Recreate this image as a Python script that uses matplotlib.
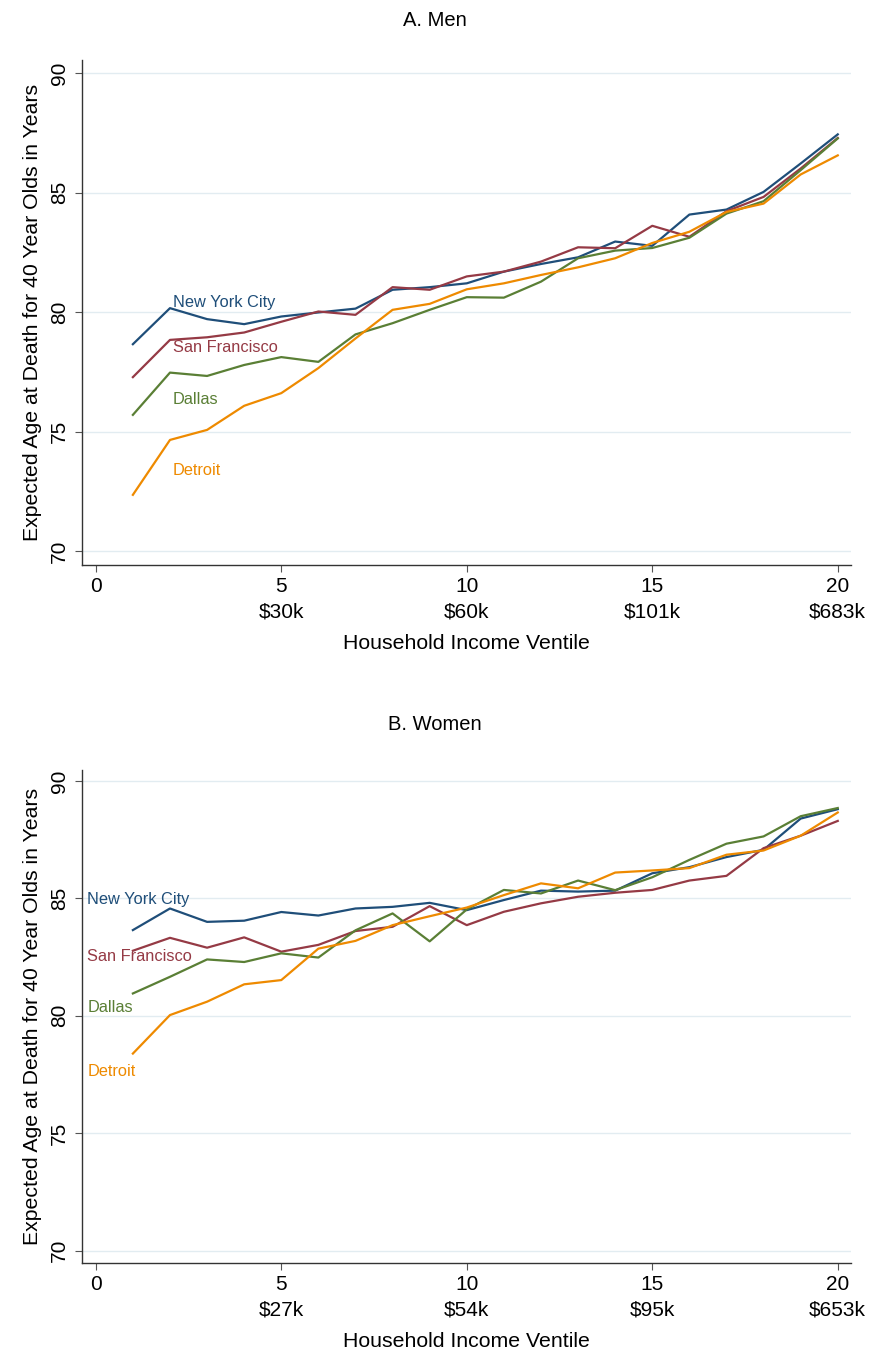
import numpy as np
import matplotlib.pyplot as plt

plt.rcParams['font.family'] = ['Liberation Sans', 'DejaVu Sans']

ventile = np.arange(1, 21)

# men, expected age at death
men_nyc = [78.66, 80.17, 79.71, 79.50, 79.82, 79.99, 80.15, 80.94, 81.05, 81.21,
           81.70, 82.02, 82.30, 82.96, 82.78, 84.09, 84.30, 85.04, 86.23, 87.45]
men_sf = [77.28, 78.84, 78.95, 79.15, 79.60, 80.03, 79.89, 81.05, 80.94, 81.50,
          81.70, 82.12, 82.72, 82.68, 83.62, 83.16, 84.23, 84.83, 86.02, 87.30]
men_dal = [75.70, 77.47, 77.33, 77.79, 78.12, 77.92, 79.07, 79.54, 80.10, 80.63,
           80.61, 81.28, 82.26, 82.58, 82.69, 83.12, 84.13, 84.65, 85.95, 87.28]
men_det = [72.35, 74.65, 75.07, 76.08, 76.61, 77.66, 78.90, 80.10, 80.35, 80.96,
           81.21, 81.56, 81.88, 82.26, 82.90, 83.37, 84.20, 84.55, 85.77, 86.57]

# women (panel B)
women_nyc = [83.65, 84.57, 84.00, 84.05, 84.42, 84.27, 84.57, 84.64, 84.81, 84.50,
             84.93, 85.33, 85.29, 85.33, 86.07, 86.33, 86.76, 87.07, 88.40, 88.80]
women_sf = [82.77, 83.32, 82.90, 83.34, 82.73, 83.02, 83.61, 83.79, 84.67, 83.86,
            84.43, 84.79, 85.07, 85.24, 85.36, 85.76, 85.96, 87.14, 87.67, 88.30]
women_dal = [80.95, 81.66, 82.40, 82.29, 82.66, 82.48, 83.64, 84.36, 83.17, 84.53,
             85.36, 85.21, 85.76, 85.35, 85.90, 86.64, 87.33, 87.64, 88.50, 88.85]
women_det = [78.39, 80.03, 80.60, 81.34, 81.52, 82.86, 83.19, 83.86, 84.24, 84.61,
             85.14, 85.64, 85.43, 86.10, 86.19, 86.29, 86.86, 87.04, 87.67, 88.66]

cities = ['New York City', 'San Francisco', 'Dallas', 'Detroit']
colors = ['#1f4e79', '#953a45', '#5a7f35', '#ee8a00']

xticks = [0, 5, 10, 15, 20]
men_income = ['', '$30k', '$60k', '$101k', '$683k']
women_income = ['', '$27k', '$54k', '$95k', '$653k']

# label anchors (x, y) in data units
men_lab = [(2.07, 80.40), (2.07, 78.52), (2.07, 76.36), (2.07, 73.35)]
women_lab = [(-0.23, 84.96), (-0.23, 82.51), (-0.23, 80.36), (-0.23, 77.61)]

fig = plt.figure(figsize=(8.69, 13.61), dpi=100)
axA = fig.add_axes([0.094, 0.5852, 0.885, 0.3708])
axB = fig.add_axes([0.094, 0.0722, 0.885, 0.3624])

panels = [
    (axA, [men_nyc, men_sf, men_dal, men_det], men_income, men_lab, (69.43, 90.57)),
    (axB, [women_nyc, women_sf, women_dal, women_det], women_income, women_lab, (69.48, 90.49)),
]

for ax, series, income, labs, ylim in panels:
    for ys, c, name, (lx, ly) in zip(series, colors, cities, labs):
        ax.plot(ventile, ys, color=c, lw=1.6)
        ax.text(lx, ly, name, color=c, fontsize=11.8, va='center', ha='left')
    ax.set_xlim(-0.38, 20.35)
    ax.set_ylim(*ylim)
    ax.set_yticks([70, 75, 80, 85, 90])
    ax.set_yticklabels(['70', '75', '80', '85', '90'], rotation=90, va='center')
    ax.set_xticks(xticks)
    ax.set_xticklabels([f'{t}\n{s}' if s else str(t) for t, s in zip(xticks, income)],
                       linespacing=1.4, va='top')
    ax.grid(axis='y', color='#e2ecf1', lw=1)
    ax.set_axisbelow(True)
    for s in ['top', 'right']:
        ax.spines[s].set_visible(False)
    for s in ['left', 'bottom']:
        ax.spines[s].set_color('#333333')
        ax.spines[s].set_linewidth(1)
    ax.tick_params(direction='out', length=5, width=0.8, color='#555555', labelsize=15, pad=4)
    ax.set_ylabel('Expected Age at Death for 40 Year Olds in Years', fontsize=15.3, labelpad=6)
    ax.set_xlabel('Household Income Ventile', fontsize=15.3, labelpad=9)

fig.text(0.5, 1 - 20 / 1361, 'A. Men', ha='center', va='center', fontsize=14.5)
fig.text(0.5, 1 - 724 / 1361, 'B. Women', ha='center', va='center', fontsize=14.5)

fig.savefig('out.png', dpi=100)
